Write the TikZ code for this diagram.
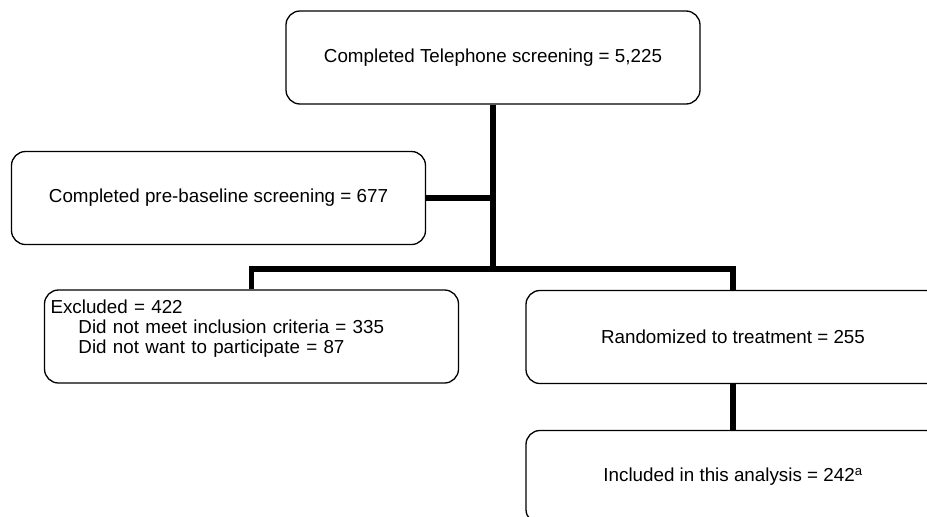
\documentclass[tikz,border=0pt]{standalone}
\usepackage{fontspec}
\setmainfont{Liberation Sans}
\begin{document}
\begin{tikzpicture}[x=1pt,y=-1pt]
    \tikzstyle{box}=[draw=black,line width=1.3pt,rounded corners=14pt,minimum width=414pt,minimum height=93pt,inner sep=0pt,font=\fontsize{18.8}{20}\selectfont]
    \tikzstyle{link}=[line width=5.5pt,line join=miter]
    \clip (0,0) rectangle (927,517);
    \node (tel)[box] at (493,57.5) {Completed Telephone screening = 5,225};
    \node (pre)[box] at (218.5,198) {Completed pre-baseline screening = 677};
    \node (exc)[box,align=left,text width=402pt,inner xsep=6pt] at (251.5,336.5)
        {Excluded = 422\\\hspace*{28pt}Did not meet inclusion criteria = 335\\\hspace*{28pt}Did not want to participate = 87\\~};
    \node (ran)[box] at (733,337) {Randomized to treatment = 255};
    \node (inc)[box] at (733,477) {Included in this analysis = 242\textsuperscript{a}};
    \coordinate (split) at (493,269);
    \draw [link] (tel.south) -- (split);
    \draw [link] (pre.east) -- (pre.east -| split);
    \draw [link] (exc.north) -- (exc.north |- split) -- (ran.north |- split) -- (ran.north);
    \draw [link] (ran.south) -- (inc.north);
\end{tikzpicture}
\end{document}
